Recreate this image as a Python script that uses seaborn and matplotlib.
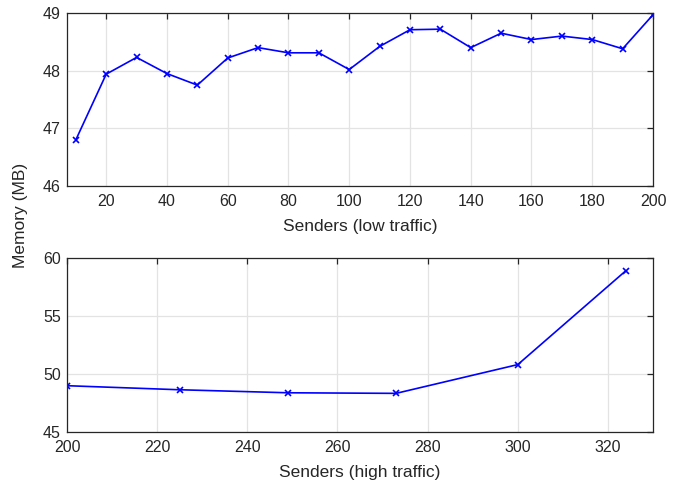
import matplotlib
matplotlib.use("Agg")
import matplotlib.pyplot as plt
import seaborn as sns
import pandas as pd

# données : mémoire selon le nombre d'émetteurs
senders_low = [10, 20, 30, 40, 50, 60, 70, 80, 90, 100,
               110, 120, 130, 140, 150, 160, 170, 180, 190, 200]
memory_low = [46.80, 47.94, 48.23, 47.95, 47.75, 48.22, 48.40, 48.31, 48.31, 48.02,
              48.42, 48.71, 48.72, 48.40, 48.65, 48.54, 48.60, 48.54, 48.38, 48.97]

senders_high = [200, 225, 249, 273, 300, 324]
memory_high = [48.98, 48.63, 48.37, 48.32, 50.80, 58.90]

xticks_low = list(range(20, 201, 20))
yticks_low = [46, 47, 48, 49]
xticks_high = list(range(200, 321, 20))
yticks_high = [45, 50, 55, 60]

df_low = pd.DataFrame({"senders": senders_low, "memory": memory_low})
df_high = pd.DataFrame({"senders": senders_high, "memory": memory_high})

sns.set_style("white")
plt.rcParams['font.family'] = ['Liberation Sans', 'DejaVu Sans']

fig = plt.figure(figsize=(6.83, 4.82), dpi=100)
ax1 = fig.add_axes([0.0981, 0.614, 0.858, 0.359])
ax2 = fig.add_axes([0.0981, 0.104, 0.858, 0.361])

edge = "#262626"
for ax, df, xl, yl, xt, yt, lab in [
    (ax1, df_low, (7.1, 200), (46, 49), xticks_low, yticks_low, "Senders (low traffic)"),
    (ax2, df_high, (200, 330), (45, 60), xticks_high, yticks_high, "Senders (high traffic)"),
]:
    sns.lineplot(data=df, x="senders", y="memory", ax=ax, color="#0000ff",
                 marker="x", markersize=4, markeredgewidth=1.2, linewidth=1.2,
                 markeredgecolor="#0000ff")
    ax.set_xlim(*xl)
    ax.set_ylim(*yl)
    ax.set_xticks(xt)
    ax.set_yticks(yt)
    ax.grid(True, color="#e3e3e3", linewidth=0.9)
    ax.set_axisbelow(True)
    for s in ax.spines.values():
        s.set_visible(True)
        s.set_color(edge)
        s.set_linewidth(0.9)
    ax.tick_params(direction="in", length=4, width=0.9, colors=edge,
                   top=True, right=True, labelsize=11.5, labelcolor="#262626")
    ax.tick_params(axis="x", pad=6)
    ax.tick_params(axis="y", pad=4.5)
    ax.set_xlabel(lab, fontsize=12.5, color="#262626", labelpad=7)
    ax.set_ylabel("")

fig.text(0.03, 0.554, "Memory (MB)", rotation=90, ha="center", va="center",
         fontsize=12.5, color="#262626")

fig.savefig("out.png", dpi=100)
plt.close(fig)
